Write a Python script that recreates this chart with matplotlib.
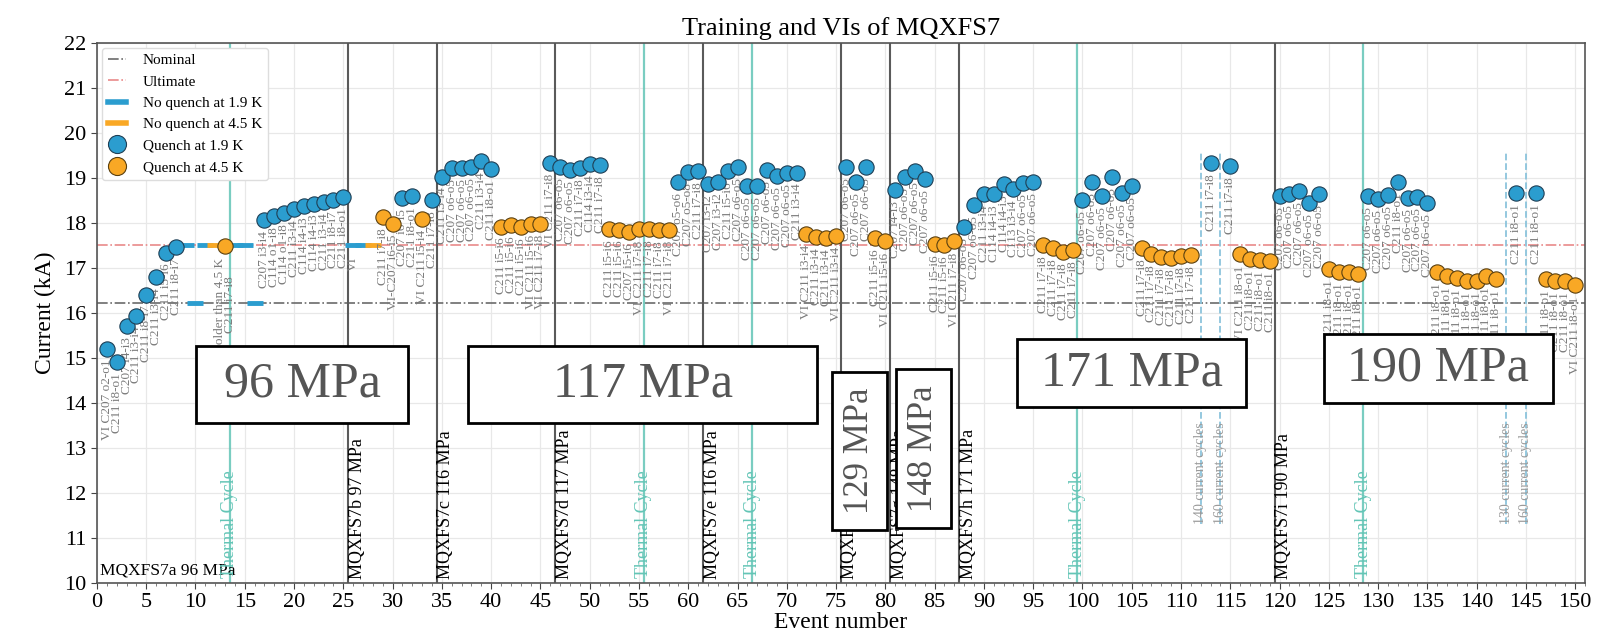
import matplotlib
matplotlib.use("Agg")
import matplotlib.pyplot as plt
from matplotlib.lines import Line2D
from matplotlib.patches import Rectangle

plt.rcParams['font.family'] = ['Liberation Serif', 'DejaVu Serif']

# ---------------- data ----------------
NOMINAL = 16.23
ULTIMATE = 17.5

q19_events = [1, 2, 3, 4, 5, 6, 7, 8,
              17, 18, 19, 20, 21, 22, 23, 24, 25,
              31, 32, 34,
              35, 36, 37, 38, 39, 40,
              46, 47, 48, 49, 50, 51,
              59, 60, 61, 62, 63, 64, 65, 66, 67, 68, 69, 70, 71,
              76, 77, 78,
              81, 82, 83, 84,
              88, 89, 90, 91, 92, 93, 94, 95,
              100, 101, 102, 103, 104, 105,
              113, 115,
              120, 121, 122, 123, 124,
              129, 130, 131, 132, 133, 134, 135,
              144, 146]
q19_current = [15.21, 14.90, 15.70, 15.94, 16.41, 16.79, 17.34, 17.47,
               18.07, 18.15, 18.22, 18.30, 18.38, 18.43, 18.47, 18.51, 18.58,
               18.55, 18.59, 18.51,
               19.03, 19.22, 19.23, 19.24, 19.38, 19.21,
               19.34, 19.25, 19.18, 19.22, 19.30, 19.28,
               18.92, 19.14, 19.16, 18.87, 18.92, 19.16, 19.24, 18.82, 18.82, 19.18, 19.05, 19.12, 19.12,
               19.24, 18.90, 19.25,
               18.73, 19.03, 19.16, 18.98,
               17.90, 18.40, 18.64, 18.64, 18.87, 18.75, 18.88, 18.90,
               18.51, 18.90, 18.59, 19.03, 18.66, 18.82,
               19.33, 19.27,
               18.59, 18.65, 18.70, 18.44, 18.65,
               18.61, 18.53, 18.62, 18.90, 18.55, 18.57, 18.45,
               18.67, 18.67]
q19_labels = ["VI C207 o2-o1", "C211 i8-o1", "C207 i4-i3", "C211 i3-i4", "C211 i8-i7", "C211 i3-i4", "C211 i5-i6", "C211 i8-i7",
              "C207 i3-i4", "C114 o1-i8", "C114 o1-i8", "C211 i3-i4", "C114 i4-i3", "C114 i4-i3", "C211 i3-i4", "C211 i8-i7", "C211 i8-o1",
              "C207 i6-i5", "C211 i8-o1", "C211 i7-i8",
              "C211 i3-i4", "C207 o6-o5", "C207 o6-o5", "C207 o6-o5", "C211 i3-i4", "C211 i8-o1",
              "VI C211 i7-i8", "C207 o6-o5", "C207 o6-o5", "C211 i7-i8", "C114 i3-i4", "C211 i7-i8",
              "C207 o5-o6", "C207 o5-o8", "C211 i7-i8", "C207 i3-i2", "C207 i3-i2", "C211 i5-i6", "C207 o6-o5",
              "C207 o6-o5", "C207 o6-o5", "C207 o6-o5", "C207 o6-o5", "C207 o6-o5", "C211 i3-i4",
              "C207 o6-o5", "C207 o6-o5", "C207 o6-o5",
              "C207 i4-i3", "C207 o6-o5", "C207 o6-o5", "C207 o6-o5",
              "C207 o6-o5", "C207 o6-o5", "C211 i3-i4", "C114 i4-i3", "C114 i4-i3", "C113 i3-i4", "C207 o6-o5", "C207 o6-o5",
              "C207 o6-o5", "C207 o6-o5", "C207 o6-o5", "C207 o6-o5", "C207 o6-o5", "C207 o6-o5",
              "C211 i7-i8", "C211 i7-i8",
              "C207 o6-o5", "C207 o6-o5", "C207 o6-o5", "C207 o6-o5", "C207 o6-o5",
              "C207 o6-o5", "C207 o6-o5", "C207 o6-o5", "C211 i8-o1", "C207 o6-o5", "C207 o6-o5", "C207 o6-o5",
              "C211 i8-o1", "C211 i8-o1"]

q45_events = [13,
              29, 30, 33,
              41, 42, 43, 44, 45,
              52, 53, 54, 55, 56, 57, 58,
              72, 73, 74, 75,
              79, 80,
              85, 86, 87,
              96, 97, 98, 99,
              106, 107, 108, 109, 110, 111,
              116, 117, 118, 119,
              125, 126, 127, 128,
              136, 137, 138, 139, 140, 141, 142,
              147, 148, 149, 150]
q45_current = [17.48,
               18.14, 17.98, 18.09,
               17.92, 17.95, 17.90, 17.98, 17.98,
               17.86, 17.85, 17.81, 17.86, 17.86, 17.85, 17.85,
               17.76, 17.68, 17.66, 17.71,
               17.66, 17.59,
               17.53, 17.51, 17.59,
               17.51, 17.44, 17.36, 17.40,
               17.44, 17.31, 17.25, 17.22, 17.27, 17.29,
               17.31, 17.19, 17.18, 17.16,
               16.97, 16.92, 16.92, 16.86,
               16.90, 16.82, 16.77, 16.70, 16.72, 16.82, 16.75,
               16.75, 16.70, 16.70, 16.62]
q45_labels = ["Colder than 4.5 K\nC211 i7-i8",
              "C211 i7-i8", "VI-C207 i6-i5", "VI C211 i5-i4",
              "C211 i5-i6", "C211 i5-i6", "C211 i5-i6", "VI C211 i5-i6", "VI C211 i7-i8",
              "C211 i5-i6", "C211 i5-i6", "C207 i5-i6", "VI C211 i7-i8", "C211 i7-i8", "C211 i7-i8", "VI C211 i7-i8",
              "VI C211 i3-i4", "C211 i3-i4", "C211 i3-i4", "VI C211 i3-i4",
              "C211 i5-i6", "VI C211 i5-i6",
              "C211 i5-i6", "C211 i5-i6", "VI C211 i7-i8",
              "C211 i7-i8", "C211 i7-i8", "C211 i7-i8", "C211 i7-i8",
              "C211 i7-i8", "C211 i7-i8", "C211 i7-i8", "C211 i7-i8", "C211 i7-i8", "C211 i7-i8",
              "VI C211 i8-o1", "C211 i8-o1", "C211 i8-o1", "C211 i8-o1",
              "C211 i8-o1", "C211 i8-o1", "C211 i8-o1", "C211 i8-o1",
              "C211 i8-o1", "C211 i8-o1", "C211 i8-o1", "C211 i8-o1", "C211 i8-o1", "C211 i8-o1", "C211 i8-o1",
              "C211 i8-o1", "C211 i8-o1", "C211 i8-o1", "VI C211 i8-o1"]

nq19_events = [9, 10, 11, 14, 15, 16, 26, 27]
nq19_current = [17.5, 16.23, 17.5, 17.5, 17.5, 16.23, 17.5, 17.5]
nq19_labels = ["", "", "", "", "", "", "VI", ""]

nq45_events = [12, 28]
nq45_current = [17.5, 17.5]

magnet_events = [25.5, 34.5, 46.5, 61.5, 75.5, 80.5, 87.5, 119.5]
magnet_names = ["MQXFS7b 97 MPa", "MQXFS7c 116 MPa", "MQXFS7d 117 MPa", "MQXFS7e 116 MPa",
                "MQXFS7f 129 MPa", "MQXFS7g 148 MPa", "MQXFS7h 171 MPa", "MQXFS7i 190 MPa"]
thermal_events = [13.5, 55.5, 66.5, 99.5, 128.5]
cycle_events = [112, 114, 143, 145]
cycle_names = ["140 current cycles", "160 current cycles", "130 current cycles", "160 current cycles"]

# stress boxes: (text, x-range, y-range, rotation)
box_texts = ["96 MPa", "117 MPa", "129 MPa", "148 MPa", "171 MPa", "190 MPa"]
box_x = [(10.1, 31.6), (37.7, 73.1), (74.6, 80.2), (81.1, 86.7), (93.4, 116.6), (124.5, 147.7)]
box_y = [(13.56, 15.27), (13.56, 15.27), (11.18, 14.69), (11.22, 14.76), (13.91, 15.42), (14.0, 15.53)]
box_rot = [0, 0, 90, 90, 0, 0]

# ---------------- style ----------------
BLUE = "#2b9dcf"
ORANGE = "#f9a825"
TEAL = "#63c5b6"
LABEL_GRAY = "#7a7a7a"

fig = plt.figure(figsize=(15.97, 6.37), dpi=100)
ax = fig.add_axes([0.0607, 0.0848, 0.9318, 0.8477])

ax.set_xlim(0, 151)
ax.set_ylim(10, 22)
ax.set_xticks(range(0, 151, 5))
ax.set_xticks(range(0, 152, 1), minor=True)
ax.set_yticks(range(10, 23, 1))
ax.grid(True, which='major', color='#e8e8e8', lw=0.9, zorder=0)
ax.set_axisbelow(True)
ax.tick_params(axis='both', which='major', labelsize=16, length=4, color='#444')
ax.tick_params(axis='x', which='minor', length=2, color='#666')
for s in ax.spines.values():
    s.set_color('#555555')
    s.set_linewidth(1.2)

# reference lines
ax.axhline(NOMINAL, color='#6b6b6b', ls='-.', lw=1.2, zorder=1)
ax.axhline(ULTIMATE, color='#e98a8a', ls='-.', lw=1.2, zorder=1)

for xe, name in zip(magnet_events, magnet_names):
    ax.axvline(xe, color='#5a5a5a', lw=1.5, zorder=2)
    ax.text(xe + 0.05, 10.08, name, rotation=90, ha='left', va='bottom', fontsize=13, color='black', zorder=3)
ax.text(0.3, 10.1, "MQXFS7a 96 MPa", ha='left', va='bottom', fontsize=12.5, color='black', zorder=3)

for xe in thermal_events:
    ax.axvline(xe, color=TEAL, lw=1.6, alpha=0.85, zorder=2)
    ax.text(xe, 10.1, "Thermal Cycle", rotation=90, ha='center', va='bottom', fontsize=13, color=TEAL, zorder=3)

for xe, name in zip(cycle_events, cycle_names):
    ax.axvline(xe, ymin=(11.3 - 10) / 12, ymax=(19.55 - 10) / 12, color='#8cc4dc', ls='--', lw=1.3, zorder=2)
    ax.text(xe, 11.3, name, rotation=90, ha='center', va='bottom', fontsize=10, color='#9a9a9a', zorder=3)

# no-quench markers
ax.plot(nq19_events, nq19_current, ls='none', marker='_', ms=11, mew=3.5, color=BLUE, zorder=4)
ax.plot(nq45_events, nq45_current, ls='none', marker='_', ms=11, mew=3.5, color=ORANGE, zorder=4)

# quench markers
ax.plot(q19_events, q19_current, ls='none', marker='o', ms=11, mfc=BLUE, mec='#1f3f55', mew=0.8, zorder=6)
ax.plot(q45_events, q45_current, ls='none', marker='o', ms=11, mfc=ORANGE, mec='#5a4010', mew=0.8, zorder=6)

# point labels
for ev, cur, lab in zip(q19_events + q45_events + nq19_events,
                        q19_current + q45_current + nq19_current,
                        q19_labels + q45_labels + nq19_labels):
    if lab:
        ax.annotate(lab, (ev, cur), xytext=(0, -8), textcoords='offset points', rotation=90,
                    ha='center', va='top', fontsize=9.5, color=LABEL_GRAY, zorder=5,
                    linespacing=0.85)

# stress boxes
for txt, (x0, x1), (y0, y1), rot in zip(box_texts, box_x, box_y, box_rot):
    ax.add_patch(Rectangle((x0, y0), x1 - x0, y1 - y0, facecolor='white', edgecolor='black', lw=2, zorder=10))
    ax.text((x0 + x1) / 2, (y0 + y1) / 2, txt, rotation=rot, ha='center', va='center',
            fontsize=36 if rot == 0 else 25, color='#555555', zorder=11)

ax.set_title("Training and VIs of MQXFS7", fontsize=19, pad=6)
ax.set_xlabel("Event number", fontsize=17, labelpad=0)
ax.set_ylabel("Current (kA)", fontsize=17, labelpad=6)

handles = [Line2D([], [], color='#6b6b6b', ls='-.', lw=1.2),
           Line2D([], [], color='#e98a8a', ls='-.', lw=1.2),
           Line2D([], [], color=BLUE, lw=4),
           Line2D([], [], color=ORANGE, lw=4),
           Line2D([], [], ls='none', marker='o', ms=13, mfc=BLUE, mec='#1f3f55', mew=0.8),
           Line2D([], [], ls='none', marker='o', ms=13, mfc=ORANGE, mec='#5a4010', mew=0.8)]
names = ["Nominal", "Ultimate", "No quench at 1.9 K", "No quench at 4.5 K", "Quench at 1.9 K", "Quench at 4.5 K"]
leg = ax.legend(handles, names, loc='upper left', fontsize=11, handlelength=1.2, handletextpad=1.1,
                frameon=True, framealpha=1, edgecolor='#dddddd', borderaxespad=0.3, labelspacing=0.5)
leg.set_zorder(12)

fig.savefig("out.png", dpi=100)
